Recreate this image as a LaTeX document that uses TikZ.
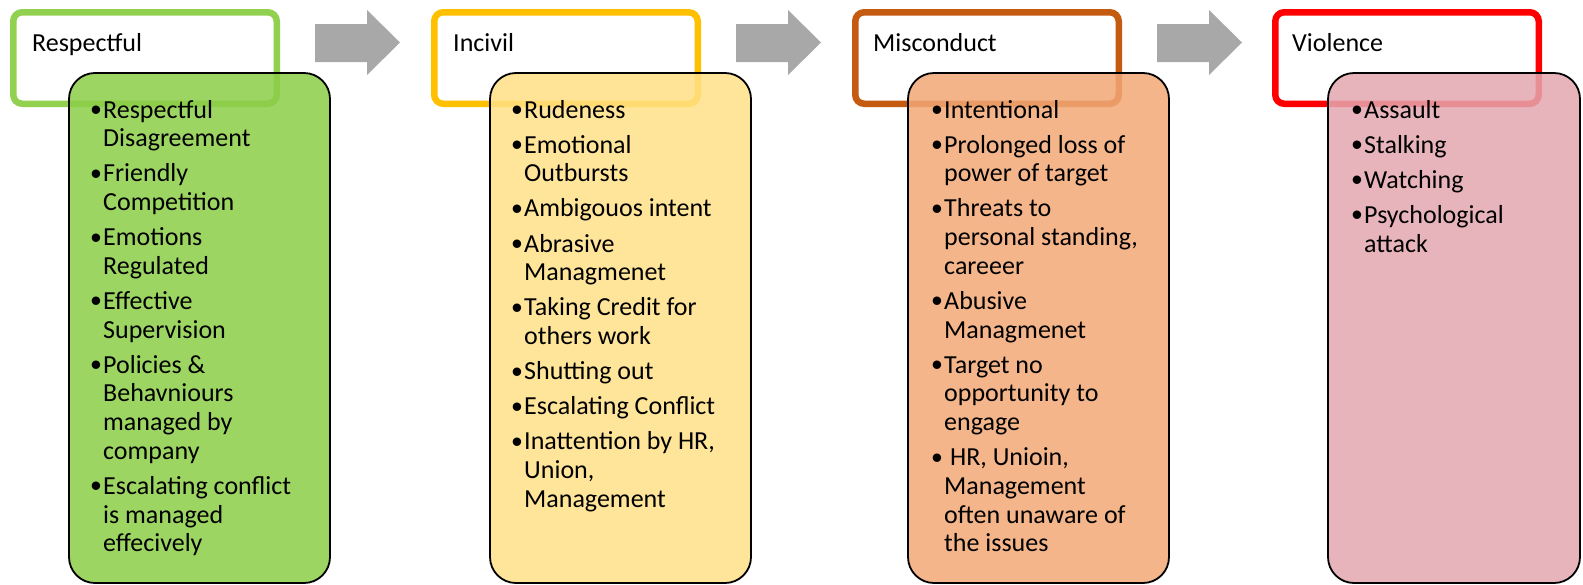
\documentclass[tikz,border=0pt]{standalone}
\usepackage{fontspec}
\setmainfont{Carlito}
\newfontfamily\bulfont{Liberation Sans}
\definecolor{gOut}{HTML}{92D050}
\definecolor{yOut}{HTML}{FFC000}
\definecolor{oOut}{HTML}{C55A11}
\definecolor{rOut}{HTML}{FF0000}
\definecolor{gFill}{RGB}{140,206,72}
\definecolor{yFill}{RGB}{255,224,135}
\definecolor{oFill}{RGB}{242,168,117}
\definecolor{pFill}{RGB}{228,167,176}
\definecolor{arrowgray}{RGB}{168,168,168}
\newcommand{\bul}{\makebox[11pt][l]{\hspace*{-1.5pt}\raisebox{-2.5pt}{\bulfont\fontsize{31}{31}\selectfont •}}}
\newcommand{\cont}{\hspace*{11pt}}
\tikzset{
  titlebox/.style={draw, line width=6.5pt, rounded corners=9pt, fill=white,
    minimum width=263.5pt, minimum height=91.5pt, anchor=north west, outer sep=0pt, inner sep=0pt},
  contentbox/.style={draw=black, line width=1.8pt, rounded corners=26pt, fill opacity=0.85,
    minimum width=261pt, minimum height=510pt, anchor=north west, outer sep=0pt, inner sep=0pt},
  titletext/.style={font=\fontsize{26}{28.7}\selectfont, anchor=base west, inner sep=0pt},
  listtext/.style={font=\fontsize{26}{28.7}\selectfont, anchor=base west, inner sep=0pt, align=left},
  blockarrow/.style={fill=arrowgray, draw=none}
}
\begin{document}
\begin{tikzpicture}[x=1pt,y=-1pt]
\useasboundingbox (0,0) rectangle (1583,584);
% block arrows
\foreach \i in {0,1,2}{
  \begin{scope}[xshift=421*\i]
    \fill[blockarrow] (315,24) -- (367,24) -- (367,10) -- (400,42.5) -- (367,75) -- (367,62) -- (315,62) -- cycle;
  \end{scope}
}
% column 1  (anchor = baseline of last line)
\node[titlebox, draw=gOut] (t1) at (13.25,12.25) {};
\node[contentbox, fill=gFill] (c1) at (69,73) {};
\node[titletext] (h1) at (32,51) {Respectful};
\node[listtext] (l1) at (92,551.8) {\bul Respectful\\\cont Disagreement\\[6.4pt]
\bul Friendly\\\cont Competition\\[6.4pt]
\bul Emotions\\\cont Regulated\\[6.4pt]
\bul Effective\\\cont Supervision\\[6.4pt]
\bul Policies \&\\\cont Behavniours\\\cont managed by\\\cont company\\[6.4pt]
\bul Escalating conflict\\\cont is managed\\\cont effecively};
% column 2
\node[titlebox, draw=yOut] (t2) at (434.25,12.25) {};
\node[contentbox, fill=yFill] (c2) at (490,73) {};
\node[titletext] (h2) at (453,51) {Incivil};
\node[listtext] (l2) at (513,507.2) {\bul Rudeness\\[6.4pt]
\bul Emotional\\\cont Outbursts\\[6.4pt]
\bul Ambigouos intent\\[6.4pt]
\bul Abrasive\\\cont Managmenet\\[6.4pt]
\bul Taking Credit for\\\cont others work\\[6.4pt]
\bul Shutting out\\[6.4pt]
\bul Escalating Conflict\\[6.4pt]
\bul Inattention by HR,\\\cont Union,\\\cont Management};
% column 3
\node[titlebox, draw=oOut] (t3) at (855.25,12.25) {};
\node[contentbox, fill=oFill] (c3) at (908,73) {};
\node[titletext] (h3) at (873,51) {Misconduct};
\node[listtext] (l3) at (933,551.8) {\bul Intentional\\[6.4pt]
\bul Prolonged loss of\\\cont power of target\\[6.4pt]
\bul Threats to\\\cont personal standing,\\\cont careeer\\[6.4pt]
\bul Abusive\\\cont Managmenet\\[6.4pt]
\bul Target no\\\cont opportunity to\\\cont engage\\[6.4pt]
\bul\ HR, Unioin,\\\cont Management\\\cont often unaware of\\\cont the issues};
% column 4
\node[titlebox, draw=rOut] (t4) at (1275.25,12.25) {};
\node[contentbox, fill=pFill, minimum width=252pt] (c4) at (1328,73) {};
\node[titletext] (h4) at (1292,51) {Violence};
\node[listtext] (l4) at (1353,252) {\bul Assault\\[6.4pt]
\bul Stalking\\[6.4pt]
\bul Watching\\[6.4pt]
\bul Psychological\\\cont attack};
\end{tikzpicture}
\end{document}
